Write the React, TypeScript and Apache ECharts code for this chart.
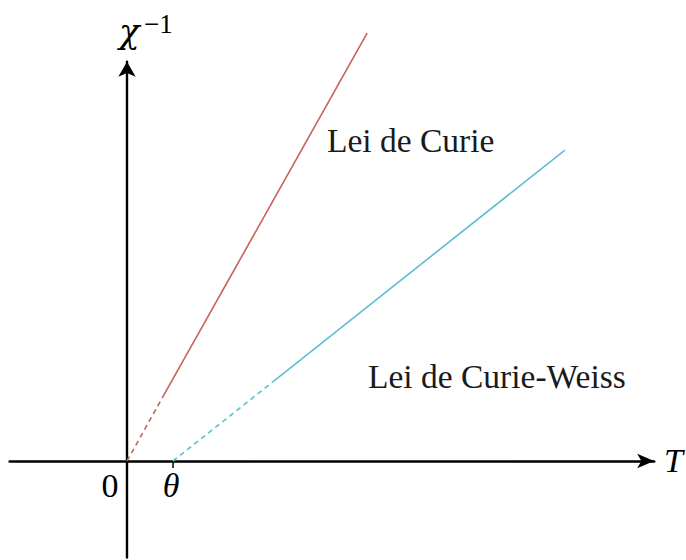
import React, { useEffect, useRef } from "react";
import * as echarts from "echarts";

// Inverse susceptibility vs temperature (arbitrary units, 1 unit = theta)
const THETA = 1;
// Curie law: chi^-1 = T / C  -> dashed part near origin, then solid
const CURIE_T = [0, 0.8, 5.22];
const CURIE_CHI = [0, 1.43, 9.3];
// Curie-Weiss law: chi^-1 = (T - theta) / C
const WEISS_T = [THETA, 3.17, 9.52];
const WEISS_CHI = [0, 1.72, 6.76];

const LABEL_CURIE = "Lei de Curie";
const LABEL_WEISS = "Lei de Curie-Weiss";

// Axis extents (data units)
const X_MIN = -2.55;
const X_MAX = 11.46;
const Y_MIN = -2.1;
const Y_MAX = 8.68;

// Layout
const W = 686;
const H = 560;
const UNIT = 46; // px per data unit
const ORIGIN_X = 127;
const ORIGIN_Y = 461;

const RED = "#c9605c";
const CYAN = "#5bbfd0";
const SERIF = "Liberation Serif";

function seg(xs: number[], ys: number[], i: number) {
  return [
    [xs[i], ys[i]],
    [xs[i + 1], ys[i + 1]],
  ];
}

function label(
  text: string,
  x: number,
  y: number,
  size: number,
  opts: { italic?: boolean; align?: string; color?: string; family?: string } = {}
) {
  return {
    type: "text",
    x,
    y,
    style: {
      text,
      fontFamily: opts.family || SERIF,
      fontSize: size,
      fontStyle: opts.italic ? "italic" : "normal",
      fill: opts.color || "#000",
      align: opts.align || "left",
      verticalAlign: "middle",
    },
  };
}

export default function App() {
  const ref = useRef<HTMLDivElement>(null);

  useEffect(() => {
    if (!ref.current) return;
    const chart = echarts.init(ref.current, undefined, { renderer: "svg" });

    const lineSeries = (data: number[][], color: string, dashed: boolean) => ({
      type: "line",
      data,
      symbol: "none",
      clip: false,
      silent: true,
      lineStyle: {
        color,
        width: 1.6,
        type: dashed ? [5, 4] : "solid",
      },
    });

    chart.setOption({
      animation: false,
      backgroundColor: "#ffffff",
      grid: {
        left: ORIGIN_X + X_MIN * UNIT,
        top: ORIGIN_Y - Y_MAX * UNIT,
        width: (X_MAX - X_MIN) * UNIT,
        height: (Y_MAX - Y_MIN) * UNIT,
      },
      xAxis: {
        type: "value",
        min: X_MIN,
        max: X_MAX,
        splitLine: { show: false },
        axisLabel: { show: false },
        axisTick: {
          show: true,
          customValues: [THETA],
          length: 7,
          lineStyle: { color: "#000", width: 1.5 },
        },
        axisLine: {
          onZero: true,
          symbol: ["none", "arrow"],
          symbolSize: [11, 17],
          lineStyle: { color: "#000", width: 2.6 },
        },
      },
      yAxis: {
        type: "value",
        min: Y_MIN,
        max: Y_MAX,
        splitLine: { show: false },
        axisLabel: { show: false },
        axisTick: { show: false },
        axisLine: {
          onZero: true,
          symbol: ["none", "arrow"],
          symbolSize: [13, 15],
          lineStyle: { color: "#000", width: 2.4 },
        },
      },
      series: [
        lineSeries(seg(CURIE_T, CURIE_CHI, 0), RED, true),
        lineSeries(seg(CURIE_T, CURIE_CHI, 1), RED, false),
        lineSeries(seg(WEISS_T, WEISS_CHI, 0), CYAN, true),
        lineSeries(seg(WEISS_T, WEISS_CHI, 1), CYAN, false),
      ],
      graphic: [
        label("χ", 119, 31, 34, { italic: true, family: "DejaVu Serif" }),
        label("−1", 144, 24, 27),
        label("0", 110, 485, 34, { align: "center" }),
        label("θ", 171, 485, 34, { italic: true, align: "center" }),
        label("T", 664, 460, 34, { italic: true }),
        label(LABEL_CURIE, 327, 140, 33.5, { color: "#1a1a1a" }),
        label(LABEL_WEISS, 368, 376, 33.5, { color: "#1a1a1a" }),
      ],
    });

    return () => chart.dispose();
  }, []);

  return (
    <div
      ref={ref}
      style={{ position: "absolute", left: 0, top: 0, width: W, height: H }}
    />
  );
}
